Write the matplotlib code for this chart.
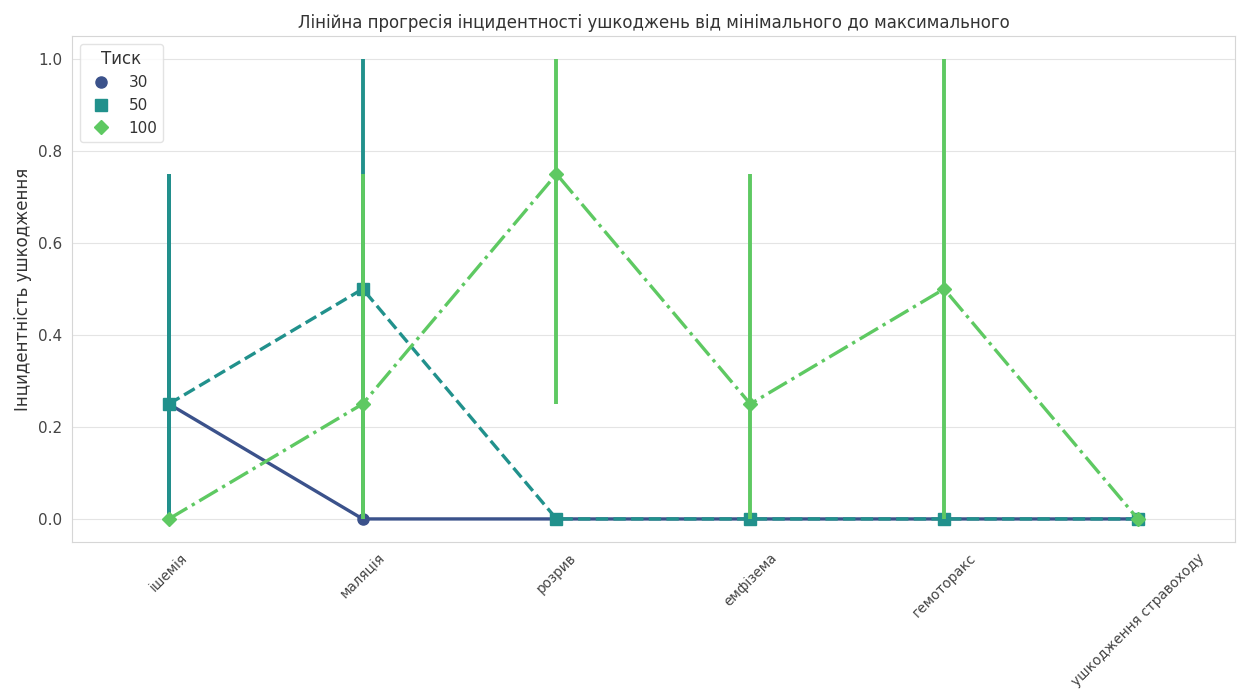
import numpy as np
import matplotlib
matplotlib.use("Agg")
import matplotlib.pyplot as plt
import seaborn as sns

#%% dani

categories = ["ішемія", "маляція", "розрив", "емфізема", "гемоторакс", "ушкодження стравоходу"]
pressures = ["30", "50", "100"]

# середнє значення та межі довірчого інтервалу для кожного тиску
mean_30 = [0.25, 0.0, 0.0, 0.0, 0.0, 0.0]
low_30 = [0.0, 0.0, 0.0, 0.0, 0.0, 0.0]
high_30 = [0.75, 0.0, 0.0, 0.0, 0.0, 0.0]

mean_50 = [0.25, 0.5, 0.0, 0.0, 0.0, 0.0]
low_50 = [0.0, 0.0, 0.0, 0.0, 0.0, 0.0]
high_50 = [0.75, 1.0, 0.0, 0.0, 0.0, 0.0]

mean_100 = [0.0, 0.25, 0.75, 0.25, 0.5, 0.0]
low_100 = [0.0, 0.0, 0.25, 0.0, 0.0, 0.0]
high_100 = [0.0, 0.75, 1.0, 0.75, 1.0, 0.0]

#%% графік

sns.set_style("whitegrid", {"grid.color": "#e4e4e4", "axes.edgecolor": "#d6d6d6",
                            "text.color": "#333333", "xtick.color": "#444444",
                            "ytick.color": "#444444", "axes.labelcolor": "#333333"})
plt.rcParams['font.family'] = ['DejaVu Sans']

colors = sns.color_palette("viridis", 3)
markers = ["o", "s", "D"]
linestyles = ["-", "--", "-."]
series = [(mean_30, low_30, high_30), (mean_50, low_50, high_50), (mean_100, low_100, high_100)]

fig = plt.figure(figsize=(12.41, 6.93), dpi=100)
ax = fig.add_axes([0.058, 0.218, 0.937, 0.730])

x = np.arange(len(categories))
for i, (m, lo, hi) in enumerate(series):
    ax.plot(x, m, color=colors[i], linestyle=linestyles[i], linewidth=2.4,
            marker=markers[i], markersize=8 if markers[i] != "D" else 7.5,
            label=pressures[i], zorder=2 + i)
    ax.vlines(x, lo, hi, color=colors[i], linewidth=2.8, zorder=2 + i)

ax.set_xlim(-0.5, len(categories) - 0.5)
ax.set_ylim(-0.05, 1.05)
ax.set_xticks(x)
ax.set_xticklabels(categories, rotation=45, fontsize=9.8)
ax.tick_params(axis="x", pad=3)
ax.grid(axis="x", visible=False)
ax.set_ylabel("Інцидентність ушкодження", fontsize=12)
ax.set_title("Лінійна прогресія інцидентності ушкоджень від мінімального до максимального", fontsize=12)
ax.tick_params(axis="y", labelsize=11)

leg = ax.legend(title="Тиск", loc="upper left", fontsize=11, title_fontsize=12)
leg.get_frame().set_edgecolor("#dddddd")
for h in leg.legend_handles:
    h.set_linestyle("")

fig.savefig("out.png", dpi=100)
